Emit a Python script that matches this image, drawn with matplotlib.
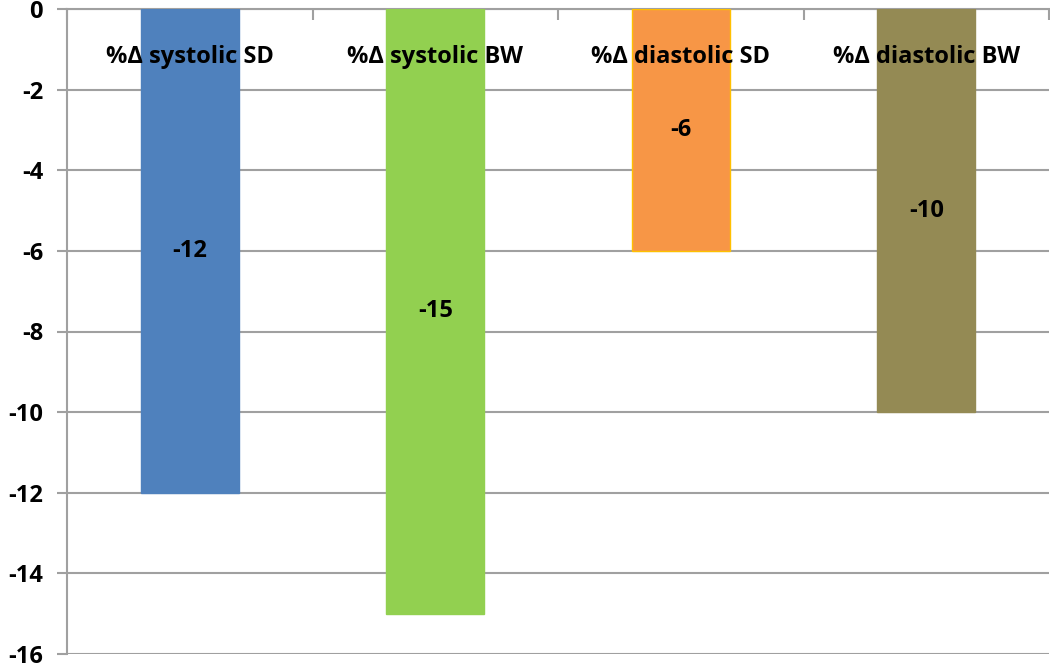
import matplotlib
matplotlib.use("Agg")
import matplotlib.pyplot as plt
import numpy as np

categories = ["%Δ systolic SD", "%Δ systolic BW", "%Δ diastolic SD", "%Δ diastolic BW"]
values = [-12, -15, -6, -10]
colors = ["#4F81BD", "#92D050", "#F79646", "#948A54"]
edges = ["#4F81BD", "#92D050", "#FFC000", "#948A54"]
yticks = list(range(0, -17, -2))

GRID = "#A0A0A0"
plt.rcParams["font.family"] = ["Open Sans", "DejaVu Sans"]

fig = plt.figure(figsize=(10.5, 6.64), dpi=100)
ax = fig.add_axes([67 / 1050, 10 / 664, 982 / 1050, 645 / 664])

x = np.arange(len(categories))
ax.bar(x, values, width=0.4, color=colors, edgecolor=edges, linewidth=1.0, zorder=3)

for xi, v in zip(x, values):
    ax.text(xi, v / 2, f"{v}", ha="center", va="center", fontsize=17,
            fontweight="bold", color="black", zorder=4)
    ax.text(xi, -1.2, categories[xi], ha="center", va="center", fontsize=17,
            fontweight="bold", color="black", zorder=5)

ax.set_xlim(-0.5, len(categories) - 0.5)
ax.set_ylim(-16, 0)
ax.set_yticks(yticks)
ax.set_yticklabels([str(t) for t in yticks], fontsize=17, fontweight="bold")
ax.tick_params(axis="y", length=7.2, width=1.5, color=GRID, pad=10)

# category boundary ticks on the zero line (top)
ax.xaxis.set_ticks_position("top")
ax.set_xticks(np.arange(-0.5, len(categories), 1.0))
ax.set_xticklabels([])
ax.tick_params(axis="x", direction="in", length=8, width=1.5, color=GRID)

ax.yaxis.grid(True, color=GRID, linewidth=1.5, zorder=0)
ax.set_axisbelow(True)
for s in ["right", "bottom"]:
    ax.spines[s].set_visible(False)
for s in ["top", "left"]:
    ax.spines[s].set_color(GRID)
    ax.spines[s].set_linewidth(1.5)

fig.savefig("out.png", dpi=100)
